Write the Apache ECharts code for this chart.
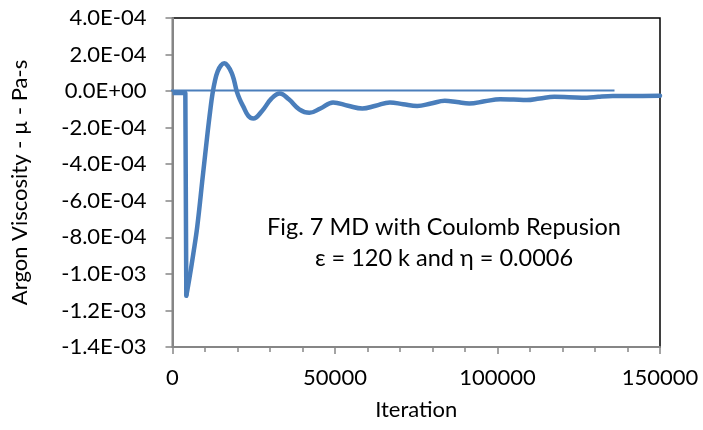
<!DOCTYPE html>
<html>
<head>
<meta charset="utf-8">
<script src="https://cdn.jsdelivr.net/npm/echarts@6/dist/echarts.min.js"></script>
<style>html,body{margin:0;padding:0;background:#fff}#c{width:703px;height:430px}</style>
</head>
<body>
<div id="c"></div>
<script>
// Initial flat segment and sudden drop (straight line)
const dropIterations = [0, 3950, 4250];
const dropViscosity = [-1.0e-5, -1.0e-5, -1.12e-3];
// Damped oscillation after the drop (smooth curve)
const iterations = [4250, 5170, 6400, 7630, 9290, 10830, 11550, 12300, 13100, 13900, 14900, 15950, 17000, 18200, 19000, 19750, 20700, 21800, 23300, 24860, 27500, 30500, 33000, 35800, 39000, 42100, 45500, 49400, 54000, 58400, 62500, 66900, 71000, 75300, 79500, 83800, 87500, 91300, 96000, 100800, 105000, 109000, 113000, 117500, 122000, 127500, 131000, 135500, 142000, 150000];
const viscosity = [-1.12e-3, -1.027e-3, -8.9e-4, -7.4e-4, -4.7e-4, -2.23e-4, -1.15e-4, -1.5e-5, 6e-5, 1.08e-4, 1.4e-4, 1.52e-4, 1.38e-4, 1.0e-4, 5.5e-5, 0, -4.5e-5, -8.5e-5, -1.35e-4, -1.5e-4, -1.1e-4, -4e-5, -1.3e-5, -4.5e-5, -1.0e-4, -1.19e-4, -9.5e-5, -6.2e-5, -8e-5, -9.5e-5, -8e-5, -6.2e-5, -7.2e-5, -8.1e-5, -6.8e-5, -5.3e-5, -6e-5, -6.8e-5, -5.6e-5, -4.4e-5, -4.6e-5, -4.9e-5, -4e-5, -3.1e-5, -3.3e-5, -3.6e-5, -3.1e-5, -2.7e-5, -2.65e-5, -2.6e-5];
// Reference (zero) line
const refIterations = [-3400, 136000];
const refValues = [3e-6, 3e-6];
// Axis settings
const xTicks = [0, 50000, 100000, 150000];
const yMin = -1.4e-3, yMax = 4e-4, yStep = 2e-4;
const annotationLines = ['Fig. 7 MD with Coulomb Repusion', 'ε = 120 k and η = 0.0006'];

const FONT = 'Lato';
const FS = 22;
function fmtExp(v) {
  if (Math.abs(v) < 1e-12) return '0.0E+00';
  let s = v.toExponential(1);
  let m = s.match(/^(-?[\d.]+)e([+-])(\d+)$/);
  let e = m[3].length < 2 ? '0' + m[3] : m[3];
  return m[1] + 'E' + m[2] + e;
}
const chart = echarts.init(document.getElementById('c'), null, {renderer: 'canvas'});
const blue = '#4A7EBB';
chart.setOption({
  animation: false,
  grid: {left: 172.5, right: 43, top: 18, bottom: 83, show: true, borderColor: '#000', borderWidth: 1.5, backgroundColor: 'transparent'},
  xAxis: {
    type: 'value', min: xTicks[0], max: xTicks[xTicks.length - 1], interval: 50000,
    name: 'Iteration', nameLocation: 'middle', nameGap: 52,
    nameTextStyle: {fontFamily: FONT, fontSize: FS, color: '#000'},
    axisLine: {show: true, onZero: false, lineStyle: {color: '#868686', width: 2}},
    axisTick: {show: true, inside: false, length: 7, lineStyle: {color: '#868686', width: 1.5}},
    minorTick: {show: true, splitNumber: 5, length: 5, lineStyle: {color: '#868686', width: 1.5}},
    axisLabel: {fontFamily: FONT, fontSize: FS, color: '#000', margin: 20, formatter: v => String(v)},
    splitLine: {show: false}
  },
  yAxis: {
    type: 'value', min: yMin, max: yMax, interval: yStep,
    name: 'Argon Viscosity - µ - Pa-s', nameLocation: 'middle', nameGap: 142,
    nameTextStyle: {fontFamily: FONT, fontSize: FS, color: '#000'},
    axisLine: {show: true, onZero: false, lineStyle: {color: '#868686', width: 2}},
    axisTick: {show: true, inside: false, length: 7, lineStyle: {color: '#868686', width: 1.5}},
    axisLabel: {fontFamily: FONT, fontSize: FS, color: '#000', margin: 26, formatter: fmtExp},
    splitLine: {show: false}
  },
  series: [
    {
      type: 'line', data: refIterations.map((x, i) => [x, refValues[i]]),
      symbol: 'none', clip: false, lineStyle: {color: blue, width: 2}, z: 3
    },
    {
      type: 'line', data: dropIterations.map((x, i) => [x, dropViscosity[i]]),
      symbol: 'none', smooth: false, lineStyle: {color: blue, width: 4.5, join: 'round'}, z: 2
    },
    {
      type: 'line', data: iterations.map((x, i) => [x, viscosity[i]]),
      symbol: 'none', smooth: 0.4, lineStyle: {color: blue, width: 4.5, cap: 'round', join: 'round'}, z: 2
    }
  ],
  graphic: annotationLines.map((t, i) => ({
    type: 'text', x: 444, y: 227 + i * 31, z: 10,
    style: {text: t, fontFamily: FONT, fontSize: 23.5, fill: '#000', textAlign: 'center', textVerticalAlign: 'middle'}
  }))
});
</script>
</body>
</html>
